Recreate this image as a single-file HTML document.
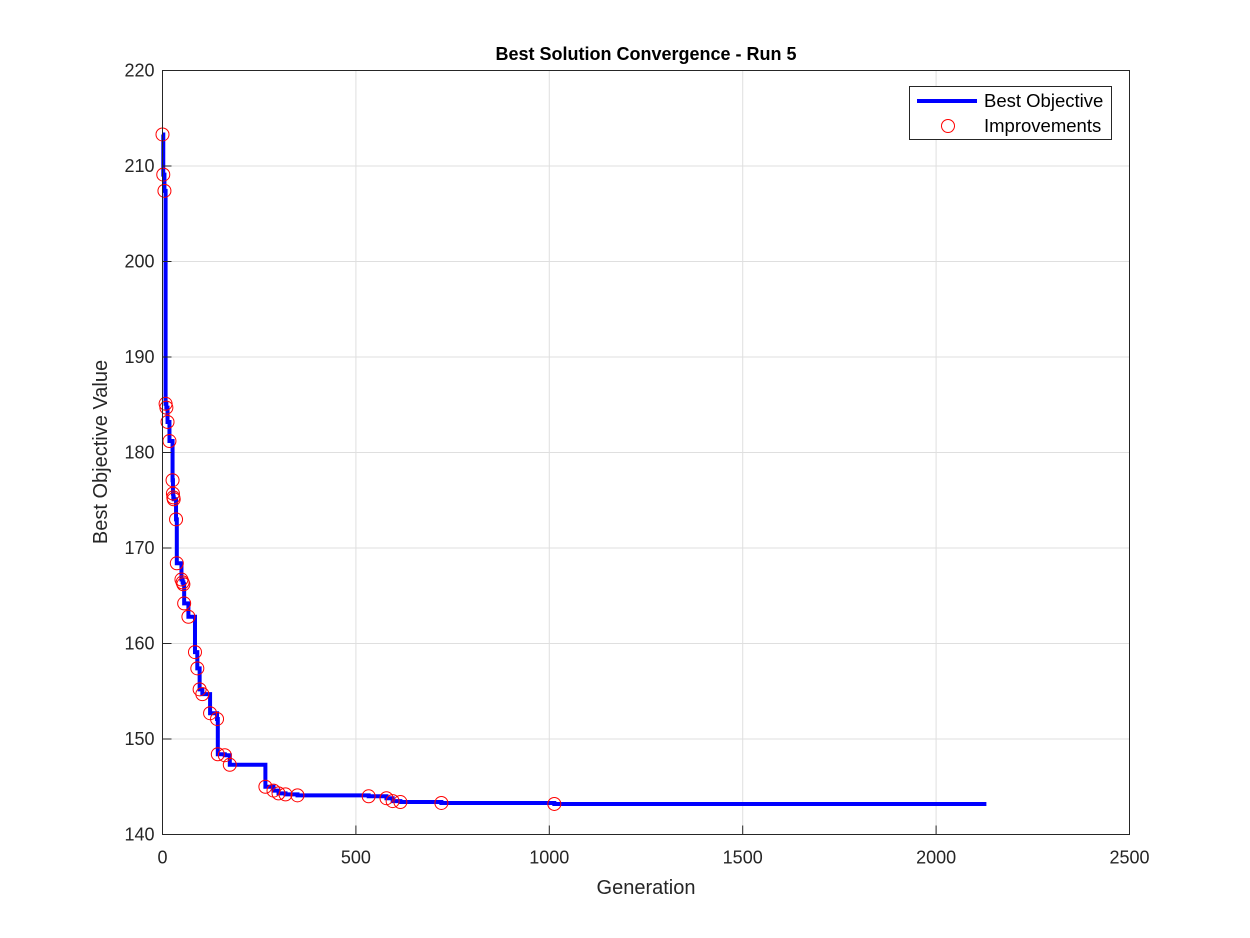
<!DOCTYPE html>
<html><head><meta charset="utf-8"><style>
body{margin:0;background:#fff;}
svg{display:block;font-family:"Liberation Sans",Arial,sans-serif;}
</style></head><body>
<svg id="chart" width="1250" height="938" viewBox="0 0 1250 938" xmlns="http://www.w3.org/2000/svg">
<rect width="1250" height="938" fill="#fff"/>
<g id="grid"></g>
<g id="series"></g>
<rect x="162.5" y="70.5" width="967" height="764" fill="none" stroke="#262626" stroke-width="1"/>
<g id="ticks"></g>
<text x="646" y="60" text-anchor="middle" font-size="18" font-weight="bold" fill="#000">Best Solution Convergence - Run 5</text>
<text x="646" y="894" text-anchor="middle" font-size="20" fill="#262626">Generation</text>
<text transform="translate(107,452) rotate(-90)" text-anchor="middle" font-size="20" fill="#262626">Best Objective Value</text>
<g>
<rect x="909.5" y="86.5" width="202" height="53" fill="#fff" stroke="#262626" stroke-width="1"/>
<line x1="917" y1="101" x2="977" y2="101" stroke="#0000ff" stroke-width="4"/>
<text x="984" y="107" font-size="18.5" fill="#000">Best Objective</text>
<circle cx="948" cy="126" r="6.5" fill="none" stroke="#ff0000" stroke-width="1"/>
<text x="984" y="132" font-size="18.5" fill="#000">Improvements</text>
</g>
</svg>
<script>
const impGen = [0,2,5,8,10,13,18,26,27,28,29,35,37,49,52,54,56,67,84,90,96,103,123,141,143,161,174,266,287,300,318,349,533,579,595,615,721,1013];
const impVal = [213.3,209.1,207.4,185.1,184.7,183.2,181.2,177.1,175.7,175.3,175.1,173.0,168.4,166.7,166.4,166.2,164.2,162.8,159.1,157.4,155.2,154.7,152.7,152.1,148.4,148.3,147.3,145.0,144.6,144.3,144.2,144.1,144.0,143.8,143.5,143.4,143.3,143.2];
const lastGen = 2130;
const xTicks = [0,500,1000,1500,2000,2500];
const yTicks = [140,150,160,170,180,190,200,210,220];
const X0=162.5,X1=1129.5,Y0=834.5,Y1=70.5;
const xs=g=>X0+(g-0)/(2500-0)*(X1-X0);
const ys=v=>Y0-(v-140)/(220-140)*(Y0-Y1);
const NS='http://www.w3.org/2000/svg';
function mk(t,a,p){const e=document.createElementNS(NS,t);for(const k in a)e.setAttribute(k,a[k]);p.appendChild(e);return e;}
const grid=document.getElementById('grid'),ticks=document.getElementById('ticks'),ser=document.getElementById('series');
xTicks.forEach(t=>{const x=xs(t);
 const gl=mk('line',{x1:x,y1:Y0,x2:x,y2:Y1,stroke:'#dfdfdf','stroke-width':1},grid);
 
 
 const tk=mk('line',{x1:x,y1:Y0,x2:x,y2:Y0-9,stroke:'#262626'},ticks);
 
 
 const tx=mk('text',{x:x,y:Y0+29,'text-anchor':'middle','font-size':18,fill:'#262626'},ticks);tx.textContent=t;
 
 
});
yTicks.forEach(t=>{const y=ys(t);
 const gl=mk('line',{x1:X0,y1:y,x2:X1,y2:y,stroke:'#dfdfdf','stroke-width':1},grid);
 
 
 const tk=mk('line',{x1:X0,y1:y,x2:X0+9,y2:y,stroke:'#262626'},ticks);
 
 
 const tx=mk('text',{x:X0-8,y:y+6,'text-anchor':'end','font-size':18,fill:'#262626'},ticks);tx.textContent=t;
 
 
});
let d='M'+xs(impGen[0])+','+ys(impVal[0]);
for(let i=1;i<impGen.length;i++){d+=' H'+xs(impGen[i])+' V'+ys(impVal[i]);}
d+=' H'+xs(lastGen);
const line=mk('path',{d:d,fill:'none',stroke:'#0000ff','stroke-width':4,'stroke-linejoin':'miter'},ser);


impGen.forEach((g,i)=>{
 const c=mk('circle',{cx:xs(g),cy:ys(impVal[i]),r:6.5,fill:'none',stroke:'#ff0000','stroke-width':1},ser);
 
 
});
</script>
</body></html>
